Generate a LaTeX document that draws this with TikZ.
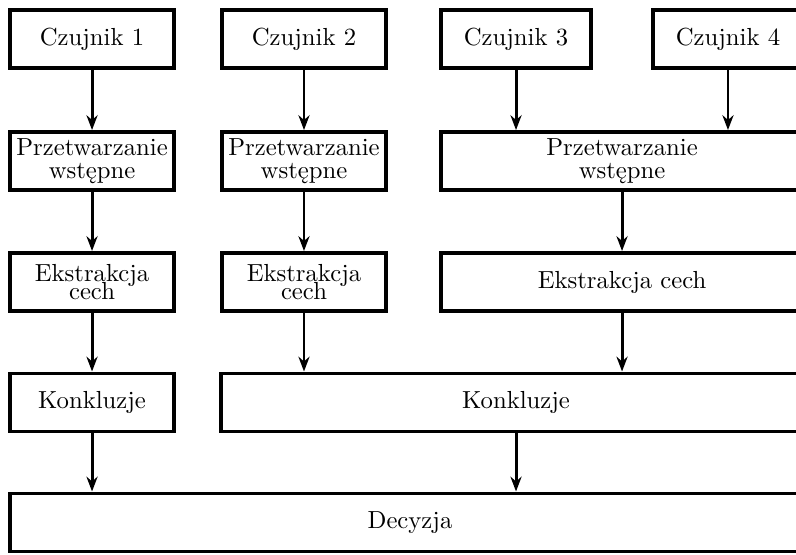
\documentclass[tikz,border=0pt]{standalone}
\usepackage{fontspec}
\usepackage{tikz}
\usetikzlibrary{arrows.meta}

\begin{document}
\begin{tikzpicture}[
    block/.style={draw,ultra thick,rectangle,align=center,minimum height=0.826cm,inner sep=1pt},
    flow/.style={-{Stealth[length=6pt,width=4.5pt]},very thick}]
    \useasboundingbox (0,0) rectangle (11.33,-7.886);

    % Sensors
    \node[block,minimum width=2.334cm] (c1) at (1.310,-0.555) {Czujnik 1};
    \node[block,minimum width=2.334cm] (c2) at (4.327,-0.555) {Czujnik 2};
    \node[block,minimum width=2.135cm] (c3) at (7.345,-0.555) {Czujnik 3};
    \node[block,minimum width=2.135cm] (c4) at (10.362,-0.555) {Czujnik 4};

    % Preprocessing
    \node[block,minimum width=2.334cm] (p1) at (1.310,-2.292) {Przetwarzanie\\[-2.7pt]wstępne};
    \node[block,minimum width=2.334cm] (p2) at (4.327,-2.292) {Przetwarzanie\\[-2.7pt]wstępne};
    \node[block,minimum width=5.153cm] (p34) at (8.854,-2.292) {Przetwarzanie\\[-2.7pt]wstępne};

    % Feature extraction
    \node[block,minimum width=2.334cm] (e1) at (1.310,-4.014) {Ekstrakcja\\[-4.7pt]cech};
    \node[block,minimum width=2.334cm] (e2) at (4.327,-4.014) {Ekstrakcja\\[-4.7pt]cech};
    \node[block,minimum width=5.153cm] (e34) at (8.854,-4.014) {Ekstrakcja cech};

    % Conclusions
    \node[block,minimum width=2.334cm] (k1) at (1.310,-5.729) {Konkluzje};
    \node[block,minimum width=8.398cm] (k234) at (7.345,-5.729) {Konkluzje};

    % Decision
    \node[block,minimum width=11.387cm] (d) at (5.836,-7.437) {Decyzja};

    % Arrows
    \draw[flow] (c1) -- (p1);
    \draw[flow] (c2) -- (p2);
    \draw[flow] (c3.south) -- (c3.south |- p34.north);
    \draw[flow] (c4.south) -- (c4.south |- p34.north);
    \draw[flow] (p1) -- (e1);
    \draw[flow] (p2) -- (e2);
    \draw[flow] (p34) -- (e34);
    \draw[flow] (e1) -- (k1);
    \draw[flow] (e2.south) -- (e2.south |- k234.north);
    \draw[flow] (e34.south) -- (e34.south |- k234.north);
    \draw[flow] (k1.south) -- (k1.south |- d.north);
    \draw[flow] (k234.south) -- (k234.south |- d.north);
\end{tikzpicture}
\end{document}
